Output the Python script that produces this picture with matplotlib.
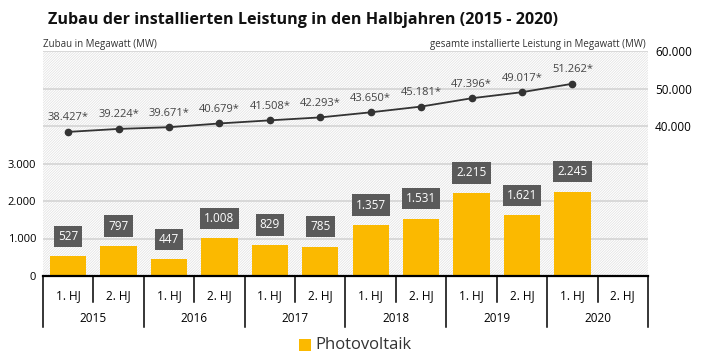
import matplotlib
matplotlib.use("Agg")
import matplotlib.pyplot as plt
from matplotlib.patches import Rectangle
import matplotlib.transforms as mtransforms

plt.rcParams['font.family'] = ['Open Sans', 'DejaVu Sans']
plt.rcParams['hatch.linewidth'] = 0.5

years = ["2015", "2016", "2017", "2018", "2019", "2020"]
halves = ["1. HJ", "2. HJ"]
zubau = [527, 797, 447, 1008, 829, 785, 1357, 1531, 2215, 1621, 2245, None]
gesamt = [38427, 39224, 39671, 40679, 41508, 42293, 43650, 45181, 47396, 49017, 51262, None]
left_ticks = [0, 1000, 2000, 3000]
right_ticks = [40000, 50000, 60000]

def fmt(v):
    return f"{v:,}".replace(",", ".")

W, H = 707, 354
fig = plt.figure(figsize=(W/100, H/100), dpi=100)
ax = fig.add_axes([43/W, 1-276/H, (648-43)/W, (276-51)/H])
ax2 = ax.twinx()

n = len(zubau)
xs = list(range(n))
ax.set_xlim(-0.5, n-0.5)
ax.set_ylim(0, 6000)
ax2.set_ylim(0, 60000)

# hatched background
ax.add_patch(Rectangle((0, 0), 1, 1, transform=ax.transAxes, facecolor='white',
                       edgecolor='#e0e0e0', hatch='/' * 13, linewidth=0, zorder=0))
for g in range(0, 7000, 1000):
    ax.axhline(g, color='#d4d4d4', lw=1.2, zorder=1)

bar_color = '#FBB900'
for i, v in enumerate(zubau):
    if v is None:
        continue
    ax.bar(i, v, width=0.72, color=bar_color, zorder=2)
    ax.text(i, v + 360, fmt(v), ha='center', va='bottom', color='white', fontsize=8.5,
            zorder=4,
            bbox=dict(boxstyle='square,pad=0.35', facecolor='#5a5a5a', edgecolor='none'))

lx = [x for x, v in zip(xs, gesamt) if v is not None]
ly = [v for v in gesamt if v is not None]
ax2.plot(lx, ly, color='#333333', lw=1.3, marker='o', markersize=4.5, zorder=3)
for x, v in zip(lx, ly):
    ax2.text(x, v + 2300, fmt(v) + "*", ha='center', va='bottom', color='#444444', fontsize=8)

ax.set_yticks(list(range(0, 7000, 1000)))
ax.set_yticklabels([fmt(t) if t in left_ticks else "" for t in range(0, 7000, 1000)], fontsize=8)
ax2.set_yticks(right_ticks)
ax2.set_yticklabels([fmt(t) for t in right_ticks], fontsize=8.5)
ax.tick_params(axis='y', length=0, pad=5)
ax2.tick_params(axis='y', length=0, pad=5)
ax.set_xticks([])
for a in (ax, ax2):
    for s in a.spines.values():
        s.set_visible(False)
ax.spines['bottom'].set_visible(True)
ax.spines['bottom'].set_linewidth(1.6)
ax.spines['bottom'].set_color('black')

# category table below axis
tr = mtransforms.blended_transform_factory(ax.transData, ax.transAxes)
y_short = -(302-276)/225
y_long = -(327-276)/225
for i in range(n+1):
    xb = i - 0.5
    yb = y_long if i % 2 == 0 else y_short
    ax.plot([xb, xb], [0, yb], transform=tr, color='black', lw=1.1, clip_on=False)
for i in range(n):
    ax.text(i, -(296-276)/225, halves[i % 2], transform=tr, ha='center', va='center', fontsize=8.5)
for j, yr in enumerate(years):
    ax.text(2*j + 0.5, -(319-276)/225, yr, transform=tr, ha='center', va='center', fontsize=8.5)

fig.text(303/W, 1-20/H, "Zubau der installierten Leistung in den Halbjahren (2015 - 2020)",
         ha='center', va='center', fontsize=11.6, fontweight='bold', color='#111111')
fig.text(43/W, 1-44/H, "Zubau in Megawatt (MW)", ha='left', va='center', fontsize=7, color='#333333')
fig.text(646/W, 1-44/H, "gesamte installierte Leistung in Megawatt (MW)", ha='right', va='center',
         fontsize=7, color='#333333')

# legend
fig.patches.append(Rectangle((299/W, 1-351/H), 12/W, 12/H, transform=fig.transFigure,
                             facecolor=bar_color, edgecolor='none'))
fig.text(315/W, 1-345/H, "Photovoltaik", ha='left', va='center', fontsize=12, color='#333333')

fig.savefig("out.png", dpi=100)
